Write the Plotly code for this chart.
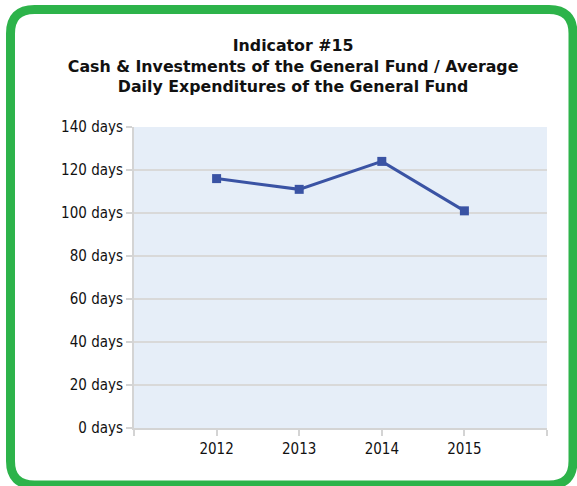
import plotly.graph_objects as go

years = [2012, 2013, 2014, 2015]
days = [116, 111, 124, 101]
y_ticks = [0, 20, 40, 60, 80, 100, 120, 140]
y_tick_labels = [f"{v} days" for v in y_ticks]
x_tick_vals = [2011, 2012, 2013, 2014, 2015, 2016]
x_tick_labels = ["", "2012", "2013", "2014", "2015", ""]

W, H = 577, 486
ML, MR, MT, MB = 134, 30, 127, 58
PW, PH = W - ML - MR, H - MT - MB

def px(x):
    return (x - ML) / PW

def py(y):
    return 1 - (y - MT) / PH

FONT = "DejaVu Sans Condensed, DejaVu Sans, sans-serif"
TFONT = "DejaVu Sans, sans-serif"

fig = go.Figure()
fig.add_trace(go.Scatter(
    x=years, y=days, mode="lines+markers",
    line=dict(color="#3A53A4", width=3),
    marker=dict(symbol="square", size=9, color="#3A53A4"),
    showlegend=False, hoverinfo="x+y",
))

# rounded green frame
x0, y0, x1, y1, r = 10.5, 9.5, 573, 485, 24
path = (
    f"M {px(x0 + r)},{py(y0)} L {px(x1 - r)},{py(y0)} "
    f"Q {px(x1)},{py(y0)} {px(x1)},{py(y0 + r)} "
    f"L {px(x1)},{py(y1 - r)} Q {px(x1)},{py(y1)} {px(x1 - r)},{py(y1)} "
    f"L {px(x0 + r)},{py(y1)} Q {px(x0)},{py(y1)} {px(x0)},{py(y1 - r)} "
    f"L {px(x0)},{py(y0 + r)} Q {px(x0)},{py(y0)} {px(x0 + r)},{py(y0)} Z"
)
fig.add_shape(type="path", path=path, xref="paper", yref="paper",
              line=dict(color="#2DB34A", width=9), layer="above")

fig.update_layout(
    width=W, height=H,
    margin=dict(l=ML, r=MR, t=MT, b=MB),
    paper_bgcolor="white", plot_bgcolor="#E6EEF8",
    title=dict(
        text="Indicator #15<br>Cash & Investments of the General Fund / Average<br>Daily Expenditures of the General Fund",
        x=0.508, xanchor="center", y=1 - 51 / H, yanchor="top",
        font=dict(family=TFONT, size=15.8, color="#111111", weight="bold"),
    ),
    font=dict(family=FONT, size=15, color="#111111"),
)
fig.update_xaxes(
    range=[2011, 2016], tickvals=x_tick_vals, ticktext=x_tick_labels,
    showgrid=False, zeroline=False, showline=True, linecolor="#D4D4D4", linewidth=2,
    ticks="outside", ticklen=6, tickcolor="#D4D4D4", tickwidth=2,
    tickfont=dict(family=FONT, size=15, color="#111111"), fixedrange=True,
)
fig.update_yaxes(
    range=[0, 140], tickvals=y_ticks, ticktext=y_tick_labels,
    showgrid=True, gridcolor="#D9D9D9", gridwidth=2, zeroline=False,
    showline=True, linecolor="#D4D4D4", linewidth=2,
    ticks="outside", ticklen=6, tickcolor="#D4D4D4", tickwidth=2,
    tickfont=dict(family=FONT, size=15, color="#111111"), fixedrange=True,
)

fig.write_html("out.html", config={"displayModeBar": False},
               post_script="document.body.style.margin='0';")
